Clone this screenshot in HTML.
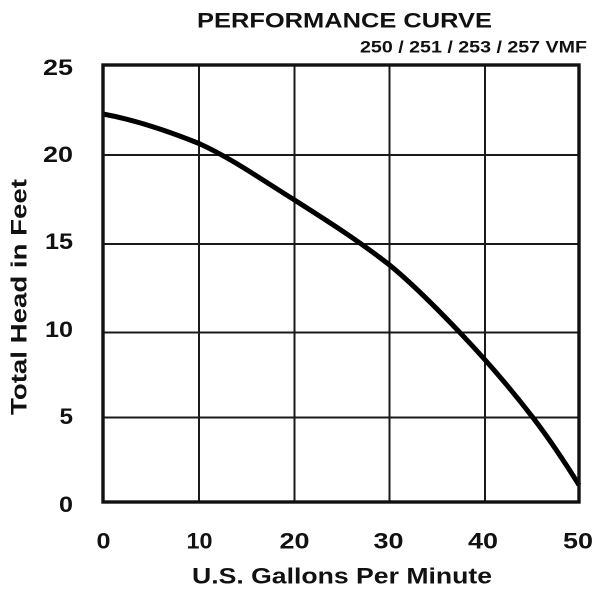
<!DOCTYPE html>
<html>
<head>
<meta charset="utf-8">
<style>
html,body{margin:0;padding:0;background:#fff;}
svg{display:block;}
text{font-family:"Liberation Sans",Arial,sans-serif;font-weight:bold;fill:#111;}
</style>
</head>
<body>
<svg width="600" height="600" viewBox="0 0 600 600" xmlns="http://www.w3.org/2000/svg">
  <rect width="600" height="600" fill="#fff"/>
  <!-- Title -->
  <text x="197" y="27.5" font-size="21" textLength="295" lengthAdjust="spacingAndGlyphs">PERFORMANCE CURVE</text>
  <text x="360" y="52.7" font-size="17" textLength="227" lengthAdjust="spacingAndGlyphs">250 / 251 / 253 / 257 VMF</text>

  <!-- grid -->
  <g stroke="#1a1a1a" stroke-width="2">
    <line x1="199" y1="65" x2="199" y2="502"/>
    <line x1="294.5" y1="65" x2="294.5" y2="502"/>
    <line x1="389.5" y1="65" x2="389.5" y2="502"/>
    <line x1="485" y1="65" x2="485" y2="502"/>
    <line x1="103" y1="155" x2="579" y2="155"/>
    <line x1="103" y1="244" x2="579" y2="244"/>
    <line x1="103" y1="332.5" x2="579" y2="332.5"/>
    <line x1="103" y1="417.5" x2="579" y2="417.5"/>
  </g>

  <!-- curve -->
  <path d="M103,114 C135,119.8 167,130.6 199,143.5 C230.7,157.8 262.3,180 294.5,200 C325.7,219.9 357.3,239.7 389.5,265 C412.7,283.9 436.3,307.8 460,332.7 C484.3,358.2 508.7,386.1 533,417.7 C548.3,437.6 563.7,460.5 579,485"
        fill="none" stroke="#000" stroke-width="5" stroke-linecap="butt"/>

  <!-- border -->
  <rect x="103" y="65" width="476" height="437" fill="none" stroke="#111" stroke-width="3.4"/>

  <!-- y tick labels -->
  <g font-size="22" text-anchor="end">
    <text x="73" y="75" textLength="30" lengthAdjust="spacingAndGlyphs">25</text>
    <text x="73" y="162" textLength="30" lengthAdjust="spacingAndGlyphs">20</text>
    <text x="73" y="249" textLength="28" lengthAdjust="spacingAndGlyphs">15</text>
    <text x="73" y="337" textLength="28" lengthAdjust="spacingAndGlyphs">10</text>
    <text x="73" y="424" textLength="13.5" lengthAdjust="spacingAndGlyphs">5</text>
    <text x="73" y="512" textLength="14" lengthAdjust="spacingAndGlyphs">0</text>
  </g>

  <!-- x tick labels -->
  <g font-size="22" text-anchor="middle">
    <text x="103.5" y="548.5" textLength="14" lengthAdjust="spacingAndGlyphs">0</text>
    <text x="199.5" y="548.5" textLength="26" lengthAdjust="spacingAndGlyphs">10</text>
    <text x="294.5" y="548.5" textLength="30" lengthAdjust="spacingAndGlyphs">20</text>
    <text x="388.5" y="548.5" textLength="30" lengthAdjust="spacingAndGlyphs">30</text>
    <text x="483" y="548.5" textLength="30" lengthAdjust="spacingAndGlyphs">40</text>
    <text x="578" y="548.5" textLength="30" lengthAdjust="spacingAndGlyphs">50</text>
  </g>

  <!-- axis titles -->
  <text x="192" y="583.3" font-size="22.5" textLength="300" lengthAdjust="spacingAndGlyphs">U.S. Gallons Per Minute</text>
  <text transform="translate(26.5,415) rotate(-90)" x="0" y="0" font-size="22.5" textLength="236" lengthAdjust="spacingAndGlyphs">Total Head in Feet</text>
</svg>
</body>
</html>
